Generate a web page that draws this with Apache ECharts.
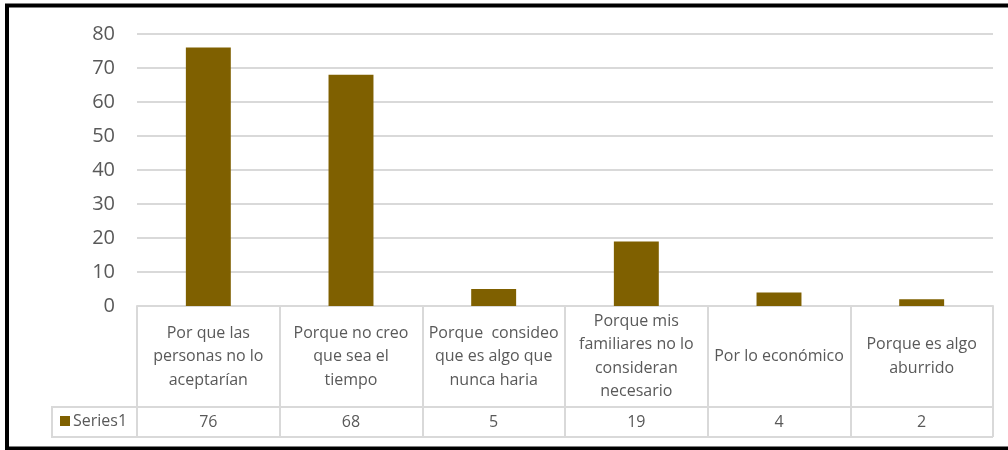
<!DOCTYPE html>
<html>
<head>
<meta charset="utf-8">
<script src="https://cdn.jsdelivr.net/npm/echarts@6/dist/echarts.min.js"></script>
<style>
  html, body { margin: 0; padding: 0; background: #fff; }
  #chart { width: 1008px; height: 450px; }
</style>
</head>
<body>
<div id="chart"></div>
<script>
const categories = [
  'Por que las\npersonas no lo\naceptarían',
  'Porque no creo\nque sea el\ntiempo',
  'Porque  consideo\nque es algo que\nnunca haria',
  'Porque mis\nfamiliares no lo\nconsideran\nnecesario',
  'Por lo económico',
  'Porque es algo\naburrido'
]
const values = [76, 68, 5, 19, 4, 2]
const seriesName = 'Series1'
const yTicks = { min: 0, max: 80, interval: 10 }

// layout of the plot area and the data table under it
const plotLeft = 137
const plotRight = 993
const plotTop = 34
const axisY = 306
const rowY = 407
const tableBottom = 437
const tableLeft = 52
const font = '"Open Sans", Roboto, sans-serif'
const lineColor = '#d9d9d9'
const textColor = '#595959'

const chart = echarts.init(document.getElementById('chart'))
chart.setOption({
  animation: false,
  backgroundColor: '#fff',
  textStyle: { fontFamily: font },
  grid: {
    left: plotLeft,
    right: 1008 - plotRight,
    top: plotTop,
    bottom: 450 - axisY,
    containLabel: false
  },
  legend: {
    left: 60,
    top: 413,
    padding: 0,
    icon: 'rect',
    itemWidth: 10,
    itemHeight: 10,
    itemGap: 4,
    textStyle: { color: textColor, fontSize: 16, fontFamily: font, padding: [0, 0, 0, -2] },
    data: [seriesName]
  },
  xAxis: [
    {
      type: 'category',
      data: categories,
      axisLine: { show: true, lineStyle: { color: lineColor, width: 2 } },
      axisTick: { show: true, length: tableBottom - axisY, lineStyle: { color: lineColor, width: 2 } },
      axisLabel: {
        interval: 0,
        color: textColor,
        fontSize: 16,
        lineHeight: 23.5,
        align: 'center',
        verticalAlign: 'middle',
        margin: (rowY - axisY) / 2
      }
    },
    {
      type: 'category',
      position: 'bottom',
      data: values.map(String),
      axisLine: { show: false },
      axisTick: { show: false },
      axisLabel: {
        interval: 0,
        color: textColor,
        fontSize: 16,
        verticalAlign: 'middle',
        margin: (rowY - axisY) + (tableBottom - rowY) / 2
      }
    }
  ],
  yAxis: {
    type: 'value',
    min: yTicks.min,
    max: yTicks.max,
    interval: yTicks.interval,
    axisLine: { show: false },
    axisTick: { show: false },
    axisLabel: { color: textColor, fontSize: 20, margin: 22 },
    splitLine: { lineStyle: { color: lineColor, width: 2 } }
  },
  series: [
    {
      name: seriesName,
      type: 'bar',
      data: values,
      barWidth: '31.5%',
      itemStyle: { color: '#7f6000' }
    }
  ],
  graphic: [
    {
      type: 'polyline',
      silent: true,
      shape: { points: [[plotRight, rowY], [tableLeft, rowY], [tableLeft, tableBottom], [plotRight, tableBottom]] },
      style: { fill: null, stroke: lineColor, lineWidth: 2 }
    },
    {
      type: 'line',
      silent: true,
      shape: { x1: plotLeft, y1: rowY, x2: plotLeft, y2: tableBottom },
      style: { stroke: lineColor, lineWidth: 2 }
    },
    {
      type: 'rect',
      silent: true,
      shape: { x: 7, y: 5.5, width: 1010, height: 443 },
      style: { fill: null, stroke: '#000', lineWidth: 4 }
    }
  ]
})
</script>
</body>
</html>
